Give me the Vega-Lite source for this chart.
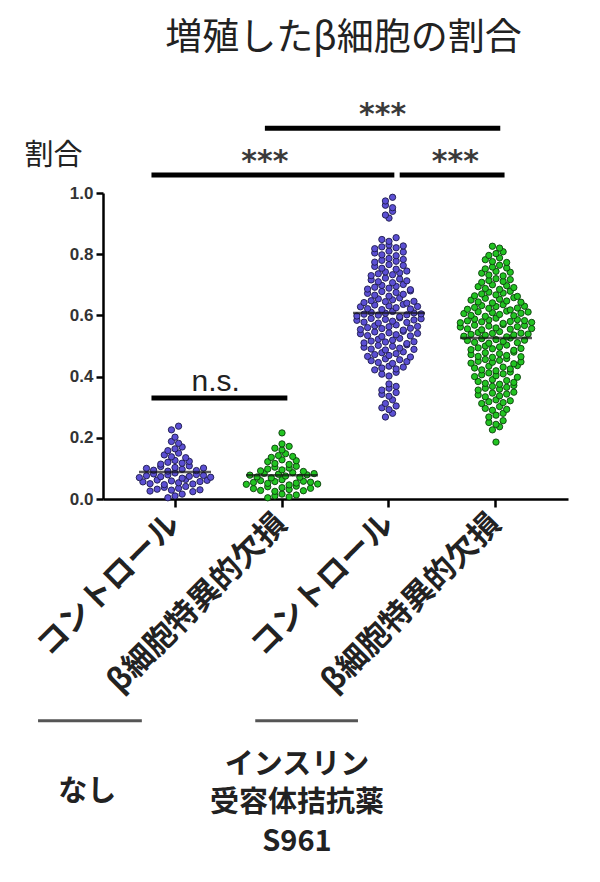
{
  "$schema": "https://vega.github.io/schema/vega-lite/v6.json",
  "width": 465,
  "height": 306,
  "autosize": {"type": "none"},
  "padding": {"left": 103, "top": 193, "right": 32, "bottom": 383},
  "background": "white",
  "config": {"view": {"stroke": null}, "font": "Noto Sans CJK JP"},
  "title": {"text": "増殖したβ細胞の割合", "fontSize": 37, "fontWeight": "normal", "color": "#222", "anchor": "middle", "frame": "group", "dx": 8, "offset": 42},
  "datasets": {
    "cells": [
      {"g":"C","v":0.004},{"g":"C","v":0.010},{"g":"C","v":0.016},
      {"g":"C","v":0.026},{"g":"C","v":0.032},{"g":"C","v":0.038},{"g":"C","v":0.029},{"g":"C","v":0.035},{"g":"C","v":0.041},{"g":"C","v":0.024},{"g":"C","v":0.030},
      {"g":"C","v":0.056},{"g":"C","v":0.050},{"g":"C","v":0.062},{"g":"C","v":0.047},{"g":"C","v":0.059},{"g":"C","v":0.053},{"g":"C","v":0.064},{"g":"C","v":0.049},{"g":"C","v":0.057},{"g":"C","v":0.061},
      {"g":"C","v":0.070},{"g":"C","v":0.076},{"g":"C","v":0.082},{"g":"C","v":0.073},{"g":"C","v":0.079},{"g":"C","v":0.085},{"g":"C","v":0.068},{"g":"C","v":0.074},{"g":"C","v":0.080},{"g":"C","v":0.077},{"g":"C","v":0.071},
      {"g":"C","v":0.100},{"g":"C","v":0.094},{"g":"C","v":0.106},{"g":"C","v":0.091},{"g":"C","v":0.103},{"g":"C","v":0.097},{"g":"C","v":0.108},{"g":"C","v":0.093},{"g":"C","v":0.101},
      {"g":"C","v":0.114},{"g":"C","v":0.120},{"g":"C","v":0.126},{"g":"C","v":0.117},{"g":"C","v":0.123},
      {"g":"C","v":0.144},{"g":"C","v":0.138},{"g":"C","v":0.150},{"g":"C","v":0.135},
      {"g":"C","v":0.158},{"g":"C","v":0.164},{"g":"C","v":0.170},
      {"g":"C","v":0.188},{"g":"C","v":0.182},
      {"g":"C","v":0.202},
      {"g":"C","v":0.226},{"g":"C","v":0.238},

      {"g":"K","v":0.004},{"g":"K","v":0.010},{"g":"K","v":0.016},{"g":"K","v":0.007},{"g":"K","v":0.013},
      {"g":"K","v":0.034},{"g":"K","v":0.028},{"g":"K","v":0.040},{"g":"K","v":0.025},{"g":"K","v":0.037},{"g":"K","v":0.031},{"g":"K","v":0.042},{"g":"K","v":0.027},{"g":"K","v":0.035},
      {"g":"K","v":0.048},{"g":"K","v":0.054},{"g":"K","v":0.060},{"g":"K","v":0.051},{"g":"K","v":0.057},{"g":"K","v":0.063},{"g":"K","v":0.046},{"g":"K","v":0.052},{"g":"K","v":0.058},{"g":"K","v":0.055},{"g":"K","v":0.049},
      {"g":"K","v":0.078},{"g":"K","v":0.072},{"g":"K","v":0.084},{"g":"K","v":0.069},{"g":"K","v":0.081},{"g":"K","v":0.075},{"g":"K","v":0.086},{"g":"K","v":0.071},{"g":"K","v":0.079},{"g":"K","v":0.083},
      {"g":"K","v":0.092},{"g":"K","v":0.098},{"g":"K","v":0.104},{"g":"K","v":0.095},{"g":"K","v":0.101},{"g":"K","v":0.107},{"g":"K","v":0.090},
      {"g":"K","v":0.122},{"g":"K","v":0.116},{"g":"K","v":0.128},{"g":"K","v":0.113},{"g":"K","v":0.125},
      {"g":"K","v":0.136},{"g":"K","v":0.142},{"g":"K","v":0.148},{"g":"K","v":0.139},
      {"g":"K","v":0.166},{"g":"K","v":0.160},{"g":"K","v":0.172},
      {"g":"K","v":0.180},
      {"g":"K","v":0.216},

      {"g":"SC","v":0.268},{"g":"SC","v":0.280},
      {"g":"SC","v":0.298},{"g":"SC","v":0.292},{"g":"SC","v":0.304},
      {"g":"SC","v":0.312},{"g":"SC","v":0.324},
      {"g":"SC","v":0.342},{"g":"SC","v":0.336},{"g":"SC","v":0.348},
      {"g":"SC","v":0.356},{"g":"SC","v":0.362},{"g":"SC","v":0.368},
      {"g":"SC","v":0.376},
      {"g":"SC","v":0.408},{"g":"SC","v":0.402},{"g":"SC","v":0.414},
      {"g":"SC","v":0.422},{"g":"SC","v":0.428},{"g":"SC","v":0.434},{"g":"SC","v":0.425},{"g":"SC","v":0.431},
      {"g":"SC","v":0.452},{"g":"SC","v":0.446},{"g":"SC","v":0.458},{"g":"SC","v":0.443},{"g":"SC","v":0.455},{"g":"SC","v":0.449},
      {"g":"SC","v":0.466},{"g":"SC","v":0.472},{"g":"SC","v":0.478},{"g":"SC","v":0.469},{"g":"SC","v":0.475},{"g":"SC","v":0.481},{"g":"SC","v":0.464},
      {"g":"SC","v":0.496},{"g":"SC","v":0.490},{"g":"SC","v":0.502},{"g":"SC","v":0.487},{"g":"SC","v":0.499},{"g":"SC","v":0.493},{"g":"SC","v":0.504},{"g":"SC","v":0.489},
      {"g":"SC","v":0.510},{"g":"SC","v":0.516},{"g":"SC","v":0.522},{"g":"SC","v":0.513},{"g":"SC","v":0.519},{"g":"SC","v":0.525},{"g":"SC","v":0.508},{"g":"SC","v":0.514},
      {"g":"SC","v":0.540},{"g":"SC","v":0.534},{"g":"SC","v":0.546},{"g":"SC","v":0.531},{"g":"SC","v":0.543},{"g":"SC","v":0.537},{"g":"SC","v":0.548},{"g":"SC","v":0.533},{"g":"SC","v":0.541},
      {"g":"SC","v":0.554},{"g":"SC","v":0.560},{"g":"SC","v":0.566},{"g":"SC","v":0.557},{"g":"SC","v":0.563},{"g":"SC","v":0.569},{"g":"SC","v":0.552},{"g":"SC","v":0.558},{"g":"SC","v":0.564},
      {"g":"SC","v":0.584},{"g":"SC","v":0.578},{"g":"SC","v":0.590},{"g":"SC","v":0.575},{"g":"SC","v":0.587},{"g":"SC","v":0.581},{"g":"SC","v":0.592},{"g":"SC","v":0.577},{"g":"SC","v":0.585},{"g":"SC","v":0.589},
      {"g":"SC","v":0.598},{"g":"SC","v":0.604},{"g":"SC","v":0.610},{"g":"SC","v":0.601},{"g":"SC","v":0.607},{"g":"SC","v":0.613},{"g":"SC","v":0.596},{"g":"SC","v":0.602},{"g":"SC","v":0.608},{"g":"SC","v":0.605},
      {"g":"SC","v":0.628},{"g":"SC","v":0.622},{"g":"SC","v":0.634},{"g":"SC","v":0.619},{"g":"SC","v":0.631},{"g":"SC","v":0.625},{"g":"SC","v":0.636},{"g":"SC","v":0.621},{"g":"SC","v":0.629},
      {"g":"SC","v":0.642},{"g":"SC","v":0.648},{"g":"SC","v":0.654},{"g":"SC","v":0.645},{"g":"SC","v":0.651},{"g":"SC","v":0.657},{"g":"SC","v":0.640},{"g":"SC","v":0.646},
      {"g":"SC","v":0.672},{"g":"SC","v":0.666},{"g":"SC","v":0.678},{"g":"SC","v":0.663},{"g":"SC","v":0.675},{"g":"SC","v":0.669},{"g":"SC","v":0.680},
      {"g":"SC","v":0.686},{"g":"SC","v":0.692},{"g":"SC","v":0.698},{"g":"SC","v":0.689},{"g":"SC","v":0.695},{"g":"SC","v":0.701},{"g":"SC","v":0.684},
      {"g":"SC","v":0.716},{"g":"SC","v":0.710},{"g":"SC","v":0.722},{"g":"SC","v":0.707},{"g":"SC","v":0.719},{"g":"SC","v":0.713},
      {"g":"SC","v":0.730},{"g":"SC","v":0.736},{"g":"SC","v":0.742},{"g":"SC","v":0.733},{"g":"SC","v":0.739},{"g":"SC","v":0.745},
      {"g":"SC","v":0.760},{"g":"SC","v":0.754},{"g":"SC","v":0.766},{"g":"SC","v":0.751},{"g":"SC","v":0.763},
      {"g":"SC","v":0.774},{"g":"SC","v":0.780},{"g":"SC","v":0.786},{"g":"SC","v":0.777},{"g":"SC","v":0.783},
      {"g":"SC","v":0.804},{"g":"SC","v":0.798},{"g":"SC","v":0.810},{"g":"SC","v":0.795},{"g":"SC","v":0.807},
      {"g":"SC","v":0.818},{"g":"SC","v":0.824},{"g":"SC","v":0.830},{"g":"SC","v":0.821},{"g":"SC","v":0.827},
      {"g":"SC","v":0.848},{"g":"SC","v":0.842},{"g":"SC","v":0.854},
      {"g":"SC","v":0.918},
      {"g":"SC","v":0.928},{"g":"SC","v":0.940},
      {"g":"SC","v":0.960},{"g":"SC","v":0.952},
      {"g":"SC","v":0.974},{"g":"SC","v":0.986},

      {"g":"SK","v":0.186},
      {"g":"SK","v":0.226},{"g":"SK","v":0.236},
      {"g":"SK","v":0.250},{"g":"SK","v":0.244},{"g":"SK","v":0.256},
      {"g":"SK","v":0.268},{"g":"SK","v":0.274},{"g":"SK","v":0.280},
      {"g":"SK","v":0.296},{"g":"SK","v":0.290},{"g":"SK","v":0.302},{"g":"SK","v":0.293},
      {"g":"SK","v":0.312},{"g":"SK","v":0.318},{"g":"SK","v":0.324},{"g":"SK","v":0.315},{"g":"SK","v":0.321},
      {"g":"SK","v":0.340},{"g":"SK","v":0.334},{"g":"SK","v":0.346},{"g":"SK","v":0.337},{"g":"SK","v":0.343},{"g":"SK","v":0.349},
      {"g":"SK","v":0.356},{"g":"SK","v":0.362},{"g":"SK","v":0.368},{"g":"SK","v":0.359},{"g":"SK","v":0.365},{"g":"SK","v":0.371},
      {"g":"SK","v":0.384},{"g":"SK","v":0.378},{"g":"SK","v":0.390},{"g":"SK","v":0.375},{"g":"SK","v":0.387},{"g":"SK","v":0.381},
      {"g":"SK","v":0.400},{"g":"SK","v":0.406},{"g":"SK","v":0.412},{"g":"SK","v":0.403},{"g":"SK","v":0.409},{"g":"SK","v":0.415},{"g":"SK","v":0.398},
      {"g":"SK","v":0.428},{"g":"SK","v":0.422},{"g":"SK","v":0.434},{"g":"SK","v":0.419},{"g":"SK","v":0.431},{"g":"SK","v":0.425},{"g":"SK","v":0.436},
      {"g":"SK","v":0.444},{"g":"SK","v":0.450},{"g":"SK","v":0.456},{"g":"SK","v":0.447},{"g":"SK","v":0.453},{"g":"SK","v":0.459},{"g":"SK","v":0.442},{"g":"SK","v":0.448},
      {"g":"SK","v":0.472},{"g":"SK","v":0.466},{"g":"SK","v":0.478},{"g":"SK","v":0.463},{"g":"SK","v":0.475},{"g":"SK","v":0.469},{"g":"SK","v":0.480},{"g":"SK","v":0.465},
      {"g":"SK","v":0.488},{"g":"SK","v":0.494},{"g":"SK","v":0.500},{"g":"SK","v":0.491},{"g":"SK","v":0.497},{"g":"SK","v":0.503},{"g":"SK","v":0.486},{"g":"SK","v":0.492},
      {"g":"SK","v":0.518},{"g":"SK","v":0.512},{"g":"SK","v":0.524},{"g":"SK","v":0.509},{"g":"SK","v":0.521},{"g":"SK","v":0.515},{"g":"SK","v":0.526},{"g":"SK","v":0.511},{"g":"SK","v":0.519},
      {"g":"SK","v":0.532},{"g":"SK","v":0.538},{"g":"SK","v":0.544},{"g":"SK","v":0.535},{"g":"SK","v":0.541},{"g":"SK","v":0.547},{"g":"SK","v":0.530},{"g":"SK","v":0.536},{"g":"SK","v":0.542},{"g":"SK","v":0.539},
      {"g":"SK","v":0.562},{"g":"SK","v":0.556},{"g":"SK","v":0.568},{"g":"SK","v":0.553},{"g":"SK","v":0.565},{"g":"SK","v":0.559},{"g":"SK","v":0.570},{"g":"SK","v":0.555},{"g":"SK","v":0.563},{"g":"SK","v":0.567},{"g":"SK","v":0.557},
      {"g":"SK","v":0.576},{"g":"SK","v":0.582},{"g":"SK","v":0.588},{"g":"SK","v":0.579},{"g":"SK","v":0.585},{"g":"SK","v":0.591},{"g":"SK","v":0.574},{"g":"SK","v":0.580},{"g":"SK","v":0.586},{"g":"SK","v":0.583},{"g":"SK","v":0.577},
      {"g":"SK","v":0.606},{"g":"SK","v":0.600},{"g":"SK","v":0.612},{"g":"SK","v":0.597},{"g":"SK","v":0.609},{"g":"SK","v":0.603},{"g":"SK","v":0.614},{"g":"SK","v":0.599},{"g":"SK","v":0.607},{"g":"SK","v":0.611},
      {"g":"SK","v":0.620},{"g":"SK","v":0.626},{"g":"SK","v":0.632},{"g":"SK","v":0.623},{"g":"SK","v":0.629},{"g":"SK","v":0.635},{"g":"SK","v":0.618},{"g":"SK","v":0.624},{"g":"SK","v":0.630},
      {"g":"SK","v":0.650},{"g":"SK","v":0.644},{"g":"SK","v":0.656},{"g":"SK","v":0.641},{"g":"SK","v":0.653},{"g":"SK","v":0.647},{"g":"SK","v":0.658},{"g":"SK","v":0.643},
      {"g":"SK","v":0.664},{"g":"SK","v":0.670},{"g":"SK","v":0.676},{"g":"SK","v":0.667},{"g":"SK","v":0.673},{"g":"SK","v":0.679},{"g":"SK","v":0.662},
      {"g":"SK","v":0.694},{"g":"SK","v":0.688},{"g":"SK","v":0.700},{"g":"SK","v":0.685},{"g":"SK","v":0.697},{"g":"SK","v":0.691},
      {"g":"SK","v":0.708},{"g":"SK","v":0.714},{"g":"SK","v":0.720},{"g":"SK","v":0.711},{"g":"SK","v":0.717},
      {"g":"SK","v":0.738},{"g":"SK","v":0.732},{"g":"SK","v":0.744},{"g":"SK","v":0.729},{"g":"SK","v":0.741},
      {"g":"SK","v":0.752},{"g":"SK","v":0.758},{"g":"SK","v":0.764},{"g":"SK","v":0.755},
      {"g":"SK","v":0.782},{"g":"SK","v":0.776},{"g":"SK","v":0.788},{"g":"SK","v":0.773},
      {"g":"SK","v":0.796},{"g":"SK","v":0.802},{"g":"SK","v":0.808},
      {"g":"SK","v":0.826},{"g":"SK","v":0.820}
    ],
    "means": [
      {"g":"C","v":0.088},{"g":"K","v":0.078},{"g":"SC","v":0.608},{"g":"SK","v":0.526}
    ]
  },
  "layer": [
    {
      "data": {"name": "cells"},
      "transform": [
        {"bin": {"step": 0.022}, "field": "v", "as": "row"},
        {"window": [{"op": "row_number", "as": "i"}, {"op": "count", "as": "n"}], "groupby": ["g", "row"], "frame": [null, null]},
        {"calculate": "datum.i - (datum.n + 1) / 2", "as": "off"}
      ],
      "mark": {"type": "circle", "size": 40, "opacity": 1, "strokeWidth": 0.9},
      "encoding": {
        "x": {
          "field": "g", "type": "nominal",
          "scale": {"type": "band", "domain": ["C", "K", "SC", "SK"], "paddingInner": 0, "paddingOuter": 0.173},
          "axis": {
            "title": null,
            "labelExpr": "indexof(datum.value, 'C') >= 0 ? 'コントロール' : 'β細胞特異的欠損'",
            "labelAngle": -45, "labelAlign": "right", "labelBaseline": "middle",
            "labelFontSize": 31, "labelFontWeight": "bold", "labelColor": "#222", "labelPadding": 12, "labelLimit": 0,
            "bandPosition": 0.5, "tickSize": 8, "tickWidth": 2.5, "tickColor": "#000",
            "domainWidth": 2.5, "domainColor": "#000", "grid": false
          }
        },
        "xOffset": {"field": "off", "type": "quantitative", "scale": {"domain": [-7.5, 7.5]}},
        "y": {
          "field": "v", "type": "quantitative",
          "scale": {"domain": [0, 1]},
          "axis": {
            "values": [0, 0.2, 0.4, 0.6, 0.8, 1], "format": ".1f",
            "title": "割合", "titleAngle": 0, "titleAlign": "center", "titleBaseline": "middle",
            "titleX": -50, "titleY": -38, "titleFontSize": 29, "titleFontWeight": "normal", "titleColor": "#222",
            "labelFont": "Liberation Sans", "labelFontWeight": "bold", "labelFontSize": 17, "labelColor": "#333", "labelPadding": 3,
            "domainWidth": 2.5, "domainColor": "#000", "tickWidth": 2.5, "tickColor": "#000", "tickSize": 7, "grid": false
          }
        },
        "color": {"field": "g", "type": "nominal", "scale": {"domain": ["C", "K", "SC", "SK"], "range": ["#5b4fd3", "#22c322", "#5b4fd3", "#22c322"]}, "legend": null},
        "stroke": {"field": "g", "type": "nominal", "scale": {"domain": ["C", "K", "SC", "SK"], "range": ["#1c1a4a", "#0b3b0b", "#1c1a4a", "#0b3b0b"]}, "legend": null}
      }
    },
    {
      "data": {"name": "means"},
      "mark": {"type": "tick", "orient": "horizontal", "size": 72, "thickness": 2.5, "color": "#111"},
      "encoding": {
        "x": {"field": "g", "type": "nominal"},
        "y": {"field": "v", "type": "quantitative"}
      }
    },
    {
      "data": {"values": [{"g": "C", "g2": "SC", "v": 1.059}, {"g": "C", "g2": "K", "v": 0.330}]},
      "mark": {"type": "rule", "strokeWidth": 5, "color": "#000"},
      "encoding": {
        "x": {"field": "g", "type": "nominal", "bandPosition": 0.28},
        "x2": {"field": "g2", "bandPosition": 0.55},
        "y": {"field": "v", "type": "quantitative"}
      }
    },
    {
      "data": {"values": [{"g": "K", "g2": "SK", "v": 1.212}]},
      "mark": {"type": "rule", "strokeWidth": 5, "color": "#000"},
      "encoding": {
        "x": {"field": "g", "type": "nominal", "bandPosition": 0.34},
        "x2": {"field": "g2", "bandPosition": 0.54},
        "y": {"field": "v", "type": "quantitative"}
      }
    },
    {
      "data": {"values": [{"g": "SC", "g2": "SK", "v": 1.059}]},
      "mark": {"type": "rule", "strokeWidth": 5, "color": "#000"},
      "encoding": {
        "x": {"field": "g", "type": "nominal", "bandPosition": 0.6},
        "x2": {"field": "g2", "bandPosition": 0.58},
        "y": {"field": "v", "type": "quantitative"}
      }
    },
    {
      "data": {"values": [{"g": "K", "v": 1.072, "t": "***"}]},
      "mark": {"type": "text", "fontSize": 30, "fontWeight": "bold", "font": "DejaVu Sans", "color": "#3a3a3a", "baseline": "alphabetic", "align": "center"},
      "encoding": {
        "x": {"field": "g", "type": "nominal", "bandPosition": 0.34},
        "y": {"field": "v", "type": "quantitative"},
        "text": {"field": "t"}
      }
    },
    {
      "data": {"values": [{"g": "SC", "v": 1.224, "t": "***"}]},
      "mark": {"type": "text", "fontSize": 30, "fontWeight": "bold", "font": "DejaVu Sans", "color": "#3a3a3a", "baseline": "alphabetic", "align": "center"},
      "encoding": {
        "x": {"field": "g", "type": "nominal", "bandPosition": 0.44},
        "y": {"field": "v", "type": "quantitative"},
        "text": {"field": "t"}
      }
    },
    {
      "data": {"values": [{"g": "SK", "v": 1.072, "t": "***"}]},
      "mark": {"type": "text", "fontSize": 30, "fontWeight": "bold", "font": "DejaVu Sans", "color": "#3a3a3a", "baseline": "alphabetic", "align": "center"},
      "encoding": {
        "x": {"field": "g", "type": "nominal", "bandPosition": 0.12},
        "y": {"field": "v", "type": "quantitative"},
        "text": {"field": "t"}
      }
    },
    {
      "data": {"values": [{"g": "C", "v": 0.352, "t": "n.s."}]},
      "mark": {"type": "text", "fontSize": 30, "color": "#222", "baseline": "alphabetic", "align": "center", "font": "Liberation Sans"},
      "encoding": {
        "x": {"field": "g", "type": "nominal", "bandPosition": 0.88},
        "y": {"field": "v", "type": "quantitative"},
        "text": {"field": "t"}
      }
    },
    {
      "data": {"values": [{"g": "C", "g2": "C", "v": -0.725}]},
      "mark": {"type": "rule", "strokeWidth": 3, "color": "#555"},
      "encoding": {
        "x": {"field": "g", "type": "nominal", "bandPosition": -0.78},
        "x2": {"field": "g2", "bandPosition": 0.19},
        "y": {"field": "v", "type": "quantitative"}
      }
    },
    {
      "data": {"values": [{"g": "K", "g2": "K", "v": -0.725}]},
      "mark": {"type": "rule", "strokeWidth": 3, "color": "#555"},
      "encoding": {
        "x": {"field": "g", "type": "nominal", "bandPosition": 0.25},
        "x2": {"field": "g2", "bandPosition": 1.21},
        "y": {"field": "v", "type": "quantitative"}
      }
    },
    {
      "data": {"values": [{"g": "C", "v": -0.958, "t": "なし"}]},
      "mark": {"type": "text", "fontSize": 29, "fontWeight": "bold", "color": "#222", "baseline": "middle", "align": "center"},
      "encoding": {
        "x": {"field": "g", "type": "nominal", "bandPosition": -0.32},
        "y": {"field": "v", "type": "quantitative"},
        "text": {"field": "t"}
      }
    },
    {
      "data": {"values": [{"g": "K", "v": -0.869, "t": ["インスリン", "受容体拮抗薬", "S961"]}]},
      "mark": {"type": "text", "fontSize": 29, "fontWeight": "bold", "color": "#222", "baseline": "middle", "align": "center", "lineHeight": 38.5},
      "encoding": {
        "x": {"field": "g", "type": "nominal", "bandPosition": 0.64},
        "y": {"field": "v", "type": "quantitative"},
        "text": {"field": "t"}
      }
    }
  ]
}
